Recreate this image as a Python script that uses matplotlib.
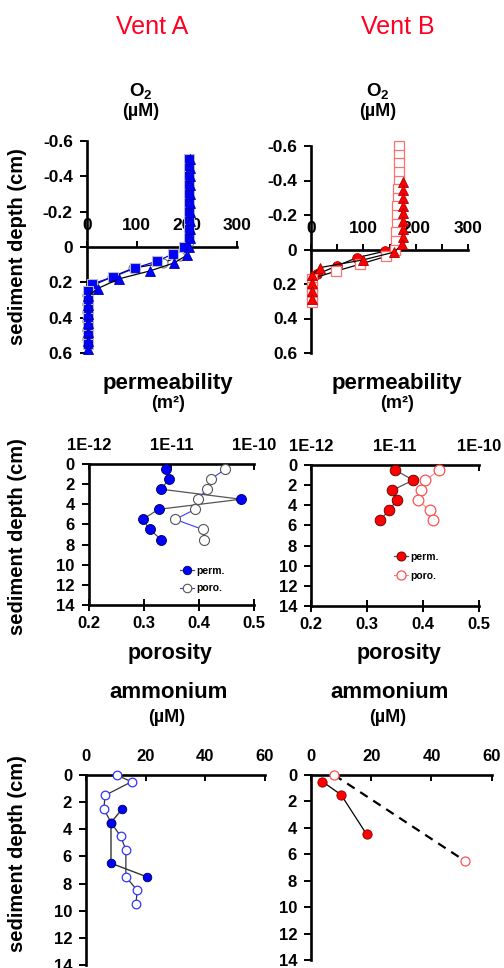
import matplotlib
matplotlib.use("Agg")
import matplotlib.pyplot as plt
from matplotlib.ticker import NullLocator

plt.rcParams['font.family'] = ['Liberation Sans', 'DejaVu Sans']
plt.rcParams['font.weight'] = 'bold'
plt.rcParams['mathtext.fontset'] = 'custom'
plt.rcParams['mathtext.rm'] = 'Liberation Sans:bold'
plt.rcParams['mathtext.bf'] = 'Liberation Sans:bold'
plt.rcParams['mathtext.it'] = 'Liberation Sans:bold'

# ---------------- data ----------------
# O2 microprofiles, Vent A (depth cm, O2 uM)
triA_depth = [-0.50, -0.45, -0.40, -0.35, -0.30, -0.25, -0.20, -0.15, -0.10, -0.05, 0.00,
              0.045, 0.09, 0.135, 0.18, 0.235, 0.28, 0.33, 0.38, 0.43, 0.48, 0.53, 0.58]
triA_o2 = [206, 206, 206, 206, 206, 206, 206, 206, 206, 206, 205,
           201, 175, 127, 65, 22, 2, 2, 2, 2, 2, 2, 2]
sqA_depth = [-0.50, -0.45, -0.40, -0.35, -0.30, -0.25, -0.20, -0.15, -0.10, -0.05, 0.00,
             0.04, 0.08, 0.12, 0.17, 0.21, 0.25, 0.30, 0.35, 0.40, 0.45, 0.50, 0.55]
sqA_o2 = [205, 205, 205, 205, 205, 205, 205, 205, 205, 205, 195,
          172, 141, 96, 52, 10, 2, 2, 2, 2, 2, 2, 2]
circA_depth = [-0.48, -0.43, -0.38, -0.33, -0.28, -0.23, -0.18, -0.13, -0.08, -0.03,
               0.05, 0.09, 0.12, 0.17, 0.22, 0.27, 0.32, 0.37, 0.42, 0.47, 0.52]
circA_o2 = [204, 204, 204, 204, 204, 204, 204, 204, 204, 204,
            187, 153, 93, 50, 10, 1, 1, 1, 1, 1, 1]

# O2 microprofiles, Vent B
sqB_depth = [-0.60, -0.55, -0.50, -0.45, -0.40, -0.35, -0.30, -0.25, -0.20, -0.15, -0.10,
             -0.05, 0.00, 0.04, 0.085, 0.125, 0.17, 0.215, 0.26, 0.305]
sqB_o2 = [168, 168, 168, 168, 168, 167, 166, 165, 165, 164, 163,
          162, 160, 143, 94, 48, 1, 1, 1, 1]
triB_depth = [-0.39, -0.345, -0.30, -0.255, -0.21, -0.165, -0.12, -0.075, -0.03,
              0.015, 0.06, 0.105, 0.15, 0.195, 0.24, 0.285]
triB_o2 = [175, 175, 175, 175, 175, 175, 175, 175, 174, 159, 100, 17, 1, 1, 1, 1]
circB_depth = [0.01, 0.048, 0.096, 0.144, 0.19, 0.24]
circB_o2 = [141, 87, 49, 11, 1, 1]

# permeability (m2) and porosity
permA_depth = [0.5, 1.5, 2.5, 3.5, 4.5, 5.5, 6.5, 7.5]
permA = [8.6e-12, 9.4e-12, 7.5e-12, 6.95e-11, 7.0e-12, 4.5e-12, 5.5e-12, 7.5e-12]
poroA = [0.448, 0.422, 0.415, 0.398, 0.393, 0.357, 0.407, 0.409]
permB_depth = [0.5, 1.5, 2.5, 3.5, 4.5, 5.5]
permB = [1.0e-11, 1.64e-11, 9.3e-12, 1.05e-11, 8.4e-12, 6.6e-12]
poroB = [0.429, 0.404, 0.396, 0.390, 0.412, 0.418]

# ammonium (uM)
nh4A_fill_depth = [2.5, 3.5, 6.5, 7.5]
nh4A_fill = [12.2, 8.4, 8.4, 20.4]
nh4A_open_depth = [0, 0.5, 1.5, 2.5, 3.5, 4.5, 5.5, 7.5, 8.5, 9.5]
nh4A_open = [10.3, 15.3, 6.4, 6.0, 8.4, 11.6, 13.4, 13.4, 17.2, 16.8]
nh4B_fill_depth = [0.5, 1.5, 4.5]
nh4B_fill = [3.8, 10.0, 18.5]
nh4B_open_depth = [0, 6.5]
nh4B_open = [7.7, 51.1]

o2_ticks = [0, 100, 200, 300]
o2_depth_ticks = [-0.6, -0.4, -0.2, 0, 0.2, 0.4, 0.6]
o2_depth_labels = ['-0.6', '-0.4', '-0.2', '0', '0.2', '0.4', '0.6']
perm_ticks = [1e-12, 1e-11, 1e-10]
perm_labels = ['1E-12', '1E-11', '1E-10']
poro_ticks = [0.2, 0.3, 0.4, 0.5]
core_depth_ticks = [0, 2, 4, 6, 8, 10, 12, 14]
nh4_ticks = [0, 20, 40, 60]

# ---------------- figure ----------------
W, H = 504, 968
fig = plt.figure(figsize=(W / 100, H / 100), dpi=100)

BLUE = '#0000ff'
RED = '#ff0000'
SPINE_W = 1.9


def box(x0, y0, x1, y1):
    return [x0 / W, 1 - y1 / H, (x1 - x0) / W, (y1 - y0) / H]


def base_axes(rect):
    ax = fig.add_axes(rect)
    ax.patch.set_visible(False)
    for s in ax.spines.values():
        s.set_linewidth(SPINE_W)
        s.set_zorder(1)
    ax.spines['right'].set_visible(False)
    ax.spines['bottom'].set_visible(False)
    return ax


def o2_panel(rect, minor):
    ax = base_axes(rect)
    ax.set_xlim(0, 300)
    ax.set_ylim(0.6, -0.6)
    ax.spines['top'].set_position(('data', 0))
    ax.xaxis.tick_top()
    ax.set_xticks(o2_ticks)
    ax.set_xticklabels([str(t) for t in o2_ticks])
    if minor:
        ax.set_xticks([50, 150, 250], minor=True)
        ax.tick_params(axis='x', which='minor', direction='out', length=4, width=1.4)
    ax.tick_params(axis='x', which='major', direction='out', length=4, width=1.4,
                   pad=6, labelsize=12.5)
    ax.set_yticks(o2_depth_ticks)
    ax.set_yticklabels(o2_depth_labels)
    ax.tick_params(axis='y', direction='out', length=5, width=1.4, pad=5, labelsize=12.5)
    return ax


def core_panel(rect, xlim, ticks, labels, scale='linear', twin=False):
    ax = base_axes(rect)
    ax2 = None
    if twin:
        # porosity shares the depth axis and reads along the bottom edge
        ax2 = ax.twiny()
        ax2.patch.set_visible(False)
        ax2.set_xlim(0.2, 0.5)
        for name, s in ax2.spines.items():
            s.set_visible(name == 'bottom')
            s.set_linewidth(SPINE_W)
            s.set_zorder(1)
        ax2.xaxis.tick_bottom()
        ax2.set_xticks(poro_ticks)
        ax2.set_xticklabels([f'{t:.1f}' for t in poro_ticks])
        ax2.tick_params(axis='x', direction='inout', length=8, width=1.4, pad=4,
                        labelsize=12)
    ax.set_xscale(scale)
    ax.set_xlim(*xlim)
    ax.set_ylim(14, 0)
    ax.xaxis.tick_top()
    ax.set_xticks(ticks)
    ax.set_xticklabels(labels)
    ax.xaxis.set_minor_locator(NullLocator())
    ax.tick_params(axis='x', which='both', bottom=False, labelbottom=False,
                   top=True, labeltop=True)
    ax.tick_params(axis='x', direction='in', length=4, width=1.4, pad=8, labelsize=12)
    ax.set_yticks(core_depth_ticks)
    ax.set_yticklabels([str(t) for t in core_depth_ticks])
    ax.tick_params(axis='y', direction='out', length=5, width=1.4, pad=5, labelsize=12)
    return ax, ax2


# ---- Vent A, O2 ----
ax = o2_panel(box(86.7, 141, 236.7, 353), minor=False)
ax.plot(circA_o2, circA_depth, '-o', color='black', lw=0.9, ms=6.5, mfc='white',
        mec='#777777', mew=0.8, zorder=3, clip_on=False)
ax.plot(sqA_o2, sqA_depth, '-s', color=BLUE, lw=0.9, ms=6.5, mfc=BLUE,
        mec='#bbbbbb', mew=0.8, zorder=4, clip_on=False)
ax.plot(triA_o2, triA_depth, '-^', color='black', lw=0.9, ms=7.5, mfc=BLUE,
        mec='#0000aa', mew=0.6, zorder=5, clip_on=False)

# ---- Vent B, O2 ----
ax = o2_panel(box(311, 146, 468, 353), minor=True)
ax.plot(circB_o2, circB_depth, '-o', color='black', lw=0.9, ms=7, mfc=RED,
        mec='#aa0000', mew=0.6, zorder=3, clip_on=False)
ax.plot(sqB_o2, sqB_depth, '-s', color='black', lw=0.9, ms=7, mfc='white',
        mec='#ff7070', mew=0.9, zorder=4, clip_on=False)
ax.plot(triB_o2, triB_depth, '-^', color='black', lw=0.9, ms=7.5, mfc=RED,
        mec='#aa0000', mew=0.6, zorder=5, clip_on=False)

# ---- Vent A, permeability / porosity ----
ax, ax2 = core_panel(box(88.7, 464, 254, 605), (1e-12, 1e-10), perm_ticks, perm_labels,
                     'log', twin=True)
lp, = ax.plot(permA, permA_depth, '-o', color='#555555', lw=0.9, ms=7.2, mfc=BLUE,
              mec='#000055', mew=0.6, zorder=4, clip_on=False)
lo, = ax2.plot(poroA, permA_depth, '-o', color='#3a3aff', lw=0.8, ms=7.2, mfc='white',
               mec='#555555', mew=0.8, zorder=3, clip_on=False)
ax2.legend([lp, lo], ['perm.', 'poro.'], loc='upper left', bbox_to_anchor=(0.555, 0.28),
           frameon=False, prop={'size': 7.5, 'weight': 'bold'}, handlelength=1.3,
           handletextpad=0.2, borderpad=0, borderaxespad=0, labelspacing=0.75,
           markerscale=0.85)

# ---- Vent B, permeability / porosity ----
ax, ax2 = core_panel(box(311, 465, 479.3, 606), (1e-12, 1e-10), perm_ticks, perm_labels,
                     'log', twin=True)
lp, = ax.plot(permB, permB_depth, '-o', color='#555555', lw=0.9, ms=7.7, mfc=RED,
              mec='#550000', mew=0.6, zorder=4, clip_on=False)
lo, = ax2.plot(poroB, permB_depth, '-o', color='#e89090', lw=0.8, ms=7.7, mfc='white',
               mec='#ff5050', mew=0.9, zorder=3, clip_on=False)
ax2.legend([lp, lo], ['perm.', 'poro.'], loc='upper left', bbox_to_anchor=(0.495, 0.385),
           frameon=False, prop={'size': 7.5, 'weight': 'bold'}, handlelength=1.3,
           handletextpad=0.2, borderpad=0, borderaxespad=0, labelspacing=0.85,
           markerscale=0.85)

# ---- Vent A, ammonium ----
ax, _ = core_panel(box(86, 775, 264.5, 965), (0, 60), nh4_ticks,
                   [str(t) for t in nh4_ticks])
ax.plot(nh4A_open, nh4A_open_depth, '-o', color='#333333', lw=0.9, ms=6.2, mfc='white',
        mec='#3333ff', mew=0.9, zorder=3, clip_on=False)
ax.plot(nh4A_fill, nh4A_fill_depth, '-o', color='#333333', lw=1.0, ms=6.2, mfc=BLUE,
        mec='#000055', mew=0.6, zorder=4, clip_on=False)

# ---- Vent B, ammonium ----
ax, _ = core_panel(box(311, 775, 491.7, 960), (0, 60), nh4_ticks,
                   [str(t) for t in nh4_ticks])
ax.plot(nh4B_open, nh4B_open_depth, '--o', color='black', lw=1.6, dashes=(4, 3), ms=6.5,
        mfc='white', mec='#ff5050', mew=0.9, zorder=3, clip_on=False)
ax.plot(nh4B_fill, nh4B_fill_depth, '-o', color='black', lw=0.9, ms=6.7, mfc=RED,
        mec='#880000', mew=0.6, zorder=4, clip_on=False)

# ---------------- text ----------------
def px_text(x, y, s, size, **kw):
    fig.text(x / W, 1 - y / H, s, fontsize=size, ha='center', va='center', **kw)


px_text(152, 27, 'Vent A', 18, color='#ff0022', fontweight='normal')
px_text(398, 27, 'Vent B', 18, color='#ff0022', fontweight='normal')

for xc in (141, 378):
    px_text(xc, 91, r'$\mathbf{O_2}$', 13.5)
    px_text(xc, 112, '(µM)', 13, fontweight='bold')
for xc in (168, 397):
    px_text(xc, 383, 'permeability', 16, fontweight='bold')
    px_text(xc, 403, '(m²)', 13, fontweight='bold')
    px_text(xc + 2, 653, 'porosity', 15.5, fontweight='bold')
for xc in (169, 390):
    px_text(xc, 692, 'ammonium', 16, fontweight='bold')
    px_text(xc - 2, 718, '(µM)', 13, fontweight='bold')

for yc in (247, 537, 854):
    px_text(18, yc, 'sediment depth (cm)', 14.5, fontweight='bold', rotation=90)

fig.savefig('out.png', dpi=100)
